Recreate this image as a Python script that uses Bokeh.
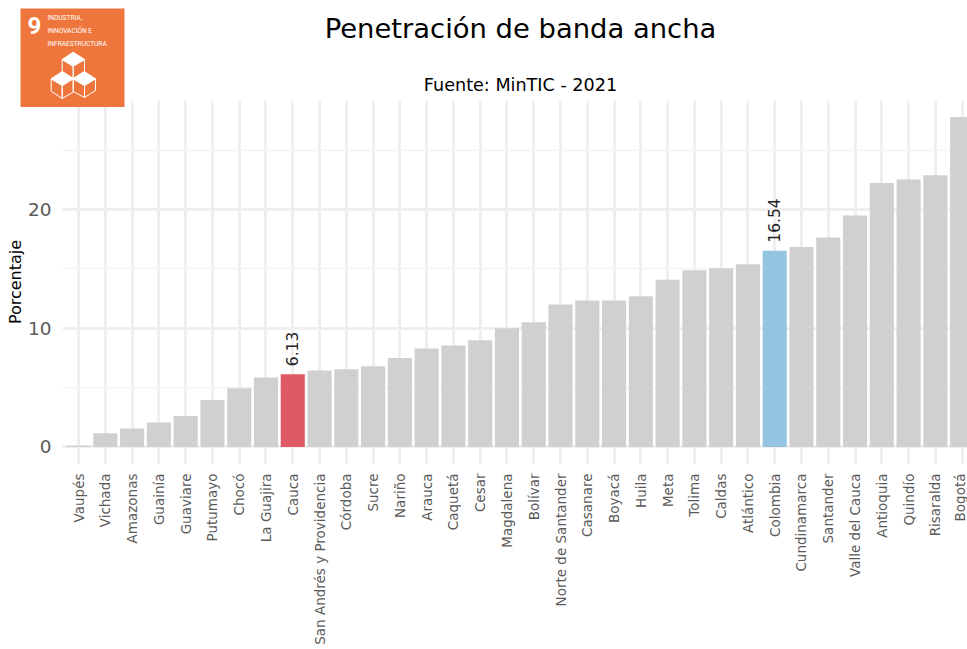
import math
from bokeh.plotting import figure
from bokeh.models import ColumnDataSource, FixedTicker, Range1d
from bokeh.core.properties import value
from bokeh.embed import file_html
from bokeh.resources import INLINE

categories = ["Vaupés","Vichada","Amazonas","Guainía","Guaviare","Putumayo","Chocó","La Guajira","Cauca",
 "San Andrés y Providencia","Córdoba","Sucre","Nariño","Arauca","Caquetá","Cesar","Magdalena","Bolívar",
 "Norte de Santander","Casanare","Boyacá","Huila","Meta","Tolima","Caldas","Atlántico","Colombia",
 "Cundinamarca","Santander","Valle del Cauca","Antioquia","Quindío","Risaralda","Bogotá"]
values = [0.1,1.15,1.55,2.05,2.6,3.95,4.95,5.85,6.13,6.45,6.55,6.8,7.5,8.3,8.55,9.0,10.0,10.5,
 12.0,12.35,12.35,12.7,14.1,14.9,15.05,15.4,16.54,16.85,17.65,19.5,22.25,22.55,22.9,27.8]
highlight = {"Cauca":"#e05a65","Colombia":"#93c4e2"}
base_color = "#d0d0d0"
y_ticks = [0,10,20]
y_minor = [5,15,25]

idx = list(range(len(categories)))
colors = [highlight.get(c, base_color) for c in categories]
src = ColumnDataSource(dict(x=idx, top=values, color=colors))
lab_idx = [i for i,c in enumerate(categories) if c in highlight]
lab_src = ColumnDataSource(dict(x=lab_idx, y=[values[i] for i in lab_idx],
                                t=[f"{values[i]:.2f}" for i in lab_idx]))

p = figure(width=967, height=549, output_backend="svg", toolbar_location=None,
           x_range=Range1d(-0.6, 33.2), y_range=Range1d(-1.4, 29.2),
           min_border_left=62, min_border_right=0, min_border_top=0, min_border_bottom=186)
p.margin = (-7, 0, 0, 0)
p.outline_line_color = None
p.background_fill_color = None
p.border_fill_color = None
p.vbar(x="x", top="top", bottom=0, width=0.9, color="color", source=src, line_color=None)
p.text(x="x", y="y", text="t", source=lab_src, angle=math.pi/2, text_align="left", text_baseline="middle",
       x_offset=-1, y_offset=-8, text_font=value("DejaVu Sans"), text_font_size="15.5px", text_color="#222222")

p.xaxis.ticker = FixedTicker(ticks=idx)
p.xaxis.major_label_overrides = {i:c for i,c in enumerate(categories)}
p.xaxis.major_label_orientation = math.pi/2
p.xaxis.major_label_text_font = "DejaVu Sans"
p.xaxis.major_label_text_font_size = "13.5px"
p.xaxis.major_label_text_color = "#5a5a5a"
p.xaxis.major_label_standoff = 10
p.xaxis.axis_line_color = None
p.xaxis.major_tick_line_color = None
p.xaxis.minor_tick_line_color = None
p.xaxis.major_tick_out = 0
p.xaxis.major_tick_in = 0

p.yaxis.ticker = FixedTicker(ticks=y_ticks, minor_ticks=y_minor)
p.yaxis.axis_label = "Porcentaje"
p.yaxis.axis_label_text_font = "DejaVu Sans"
p.yaxis.axis_label_text_font_style = "normal"
p.yaxis.axis_label_text_font_size = "16px"
p.yaxis.axis_label_text_color = "#000000"
p.yaxis.axis_label_standoff = 0
p.yaxis.major_label_text_font = "DejaVu Sans"
p.yaxis.major_label_text_font_size = "18.5px"
p.yaxis.major_label_text_color = "#5a5a5a"
p.yaxis.major_label_standoff = 7
p.yaxis.axis_line_color = None
p.yaxis.major_tick_line_color = None
p.yaxis.minor_tick_line_color = None
p.yaxis.major_tick_out = 0
p.yaxis.major_tick_in = 0

p.xgrid.ticker = FixedTicker(ticks=idx)
p.xgrid.grid_line_color = "#efefef"
p.xgrid.grid_line_width = 3
p.ygrid.ticker = FixedTicker(ticks=y_ticks, minor_ticks=y_minor)
p.ygrid.grid_line_color = "#efefef"
p.ygrid.grid_line_width = 3
p.ygrid.minor_grid_line_color = "#f2f2f2"
p.ygrid.minor_grid_line_width = 1.5

# header: title, subtitle and the SDG 9 badge, in page pixels
h = figure(width=967, height=107, output_backend="svg", toolbar_location=None,
           x_range=Range1d(0, 967), y_range=Range1d(107, 0),
           min_border=0, min_border_left=0, min_border_right=0, min_border_top=0, min_border_bottom=0)
h.axis.visible = False
h.grid.visible = False
h.outline_line_color = None
h.background_fill_color = None
h.border_fill_color = None
h.styles = {"z-index": "2", "position": "relative"}

def text(x, y, s, size, color="#000000", align="center", style="normal", font="DejaVu Sans"):
    h.text(x=[x], y=[y], text=[s], text_font=value(font), text_font_size=size, text_color=color,
           text_align=align, text_baseline="middle", text_font_style=style)

text(520, 28, "Penetración de banda ancha", "27.4px")
text(520, 84, "Fuente: MinTIC - 2021", "17.6px")

h.quad(left=[20], right=[124], top=[8], bottom=[107], fill_color="#ee763c", line_color=None)
text(34, 25, "9", "24px", "#ffffff", style="bold", font="Roboto")
for yy, s in zip([17,30,43], ["INDUSTRIA,","INNOVACIÓN E","INFRAESTRUCTURA"]):
    text(47, yy, s, "6.6px", "#ffffff", align="left", font="Roboto")

faces = [
 ([72.7,84,72.7,61.7],[51.7,59,65.7,59],True),
 ([61.7,72.7,72.7,61.7],[59,65.7,78,71],False),
 ([72.7,84,84,72.7],[65.7,59,71,78],False),
 ([61.7,72.7,61.7,50.7],[71,78.3,85,78.3],True),
 ([50.7,61.7,61.7,50.7],[78.3,85,98,90.7],False),
 ([61.7,72.7,72.7,61.7],[85,78.3,91.7,98],False),
 ([84,95,84,72.7],[71,78.3,85,78.3],True),
 ([72.7,84,84,72.7],[78.3,85,97,91],False),
 ([84,95,95,84],[85,78.3,90,97],False),
]
for xs, ys, fill in faces:
    h.patch(xs, ys, fill_color="#ffffff", fill_alpha=1 if fill else 0, line_color="#ffffff", line_width=1)

open("out.html", "w").write(file_html([h, p], INLINE))
